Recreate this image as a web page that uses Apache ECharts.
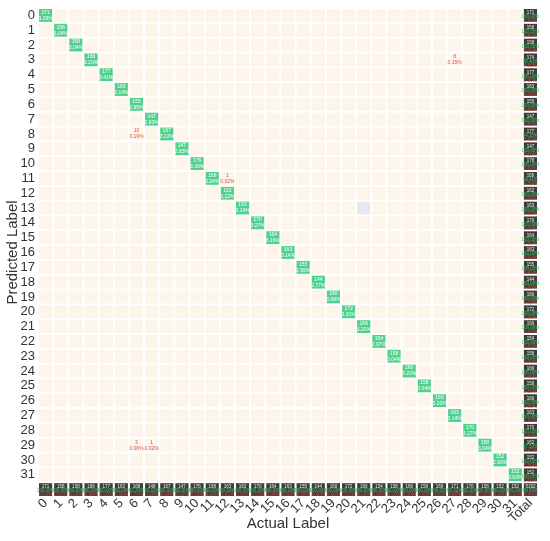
<!DOCTYPE html>
<html>
<head>
<meta charset="utf-8">
<style>
  html, body { margin: 0; padding: 0; background: #fff; }
  #chart { width: 550px; height: 541px; }
</style>
<script src="https://cdn.jsdelivr.net/npm/echarts@6/dist/echarts.min.js"></script>
</head>
<body>
<div id="chart"></div>
<script>
// class labels (0..31) plus Total
const classes = Array.from({ length: 32 }, (_, i) => String(i));
const labels = classes.concat(['Total']);

// correct predictions per class (diagonal)
const diagonal = [171, 158, 158, 166, 177, 163, 155, 147, 167, 147, 176, 168, 162, 163, 170, 164,
                  163, 155, 144, 160, 172, 166, 154, 158, 166, 158, 166, 163, 170, 158, 152, 152];

// off-diagonal mistakes: [predicted row, actual col, count]
const mistakes = [[8, 6, 10], [11, 12, 1], [3, 27, 8], [29, 6, 3], [29, 7, 1]];

// a single grey cell seen in the matrix: [row, col]
const greyCells = [[13, 21]];

const n = classes.length;
const matrix = [];
for (let r = 0; r < n; r++) {
  matrix.push(new Array(n).fill(0));
  matrix[r][r] = diagonal[r];
}
mistakes.forEach(([r, c, v]) => { matrix[r][c] = v; });

const rowSums = matrix.map(row => row.reduce((a, b) => a + b, 0));
const colSums = classes.map((_, c) => matrix.reduce((a, row) => a + row[c], 0));
const grand = rowSums.reduce((a, b) => a + b, 0);
const diagSum = diagonal.reduce((a, b) => a + b, 0);

function pct(v, d) { return (d ? (100 * v / d) : 0).toFixed(2) + '%'; }

// items: [col, row, value, kind, line2, line3]
const cells = [];
for (let r = 0; r < n; r++) {
  for (let c = 0; c < n; c++) {
    const v = matrix[r][c];
    let kind = 'empty';
    if (r === c) kind = 'diag';
    else if (v > 0) kind = 'miss';
    if (greyCells.some(g => g[0] === r && g[1] === c)) kind = 'grey';
    cells.push([c, r, v, kind, pct(v, grand), '']);
  }
  cells.push([n, r, rowSums[r], 'total', pct(diagonal[r], rowSums[r]), pct(rowSums[r] - diagonal[r], rowSums[r])]);
}
for (let c = 0; c < n; c++) {
  cells.push([c, n, colSums[c], 'total', pct(diagonal[c], colSums[c]), pct(colSums[c] - diagonal[c], colSums[c])]);
}
cells.push([n, n, grand, 'total', pct(diagSum, grand), pct(grand - diagSum, grand)]);

const chart = echarts.init(document.getElementById('chart'), null, { renderer: 'canvas' });

function renderCell(params, api) {
  const p = api.coord([api.value(0), api.value(1)]);
  const s = api.size([1, 1]);
  const kind = api.value(3);
  const v = api.value(2);
  const x0 = p[0] - s[0] / 2 + 1, y0 = p[1] - s[1] / 2 + 1;
  const w = s[0] - 2, h = s[1] - 2;
  let fill = '#fdf4ea';
  if (kind === 'diag') fill = '#50d08c';
  else if (kind === 'grey') fill = '#e6e7ef';
  else if (kind === 'total') fill = '#3a4039';
  const children = [{ type: 'rect', shape: { x: x0, y: y0, width: w, height: h }, style: { fill: fill } }];
  if (kind === 'diag' || kind === 'miss') {
    children.push({
      type: 'text',
      style: {
        text: v + '\n' + api.value(4),
        x: p[0], y: p[1], align: 'center', verticalAlign: 'middle',
        fontSize: 5, lineHeight: 6, fontFamily: 'Liberation Sans',
        fill: kind === 'diag' ? '#ffffff' : '#e0504a'
      }
    });
  } else if (kind === 'total') {
    const lines = [[String(v), '#e8e8e8'], [api.value(4), '#3fbf6a'], [api.value(5), '#c8463c']];
    lines.forEach((ln, i) => {
      children.push({
        type: 'text',
        style: {
          text: ln[0], x: p[0], y: y0 + 1.5 + i * 4, align: 'center', verticalAlign: 'top',
          fontSize: 4.5, fontFamily: 'Liberation Sans', fill: ln[1]
        }
      });
    });
  }
  return { type: 'group', children: children };
}

chart.setOption({
  animation: false,
  backgroundColor: '#ffffff',
  grid: { left: 38, right: 12, top: 8, bottom: 44, outerBoundsMode: 'none', containLabel: false },
  xAxis: {
    type: 'category',
    data: labels,
    name: 'Actual Label',
    nameLocation: 'middle',
    nameGap: 19,
    nameMoveOverlap: false,
    nameTextStyle: { fontSize: 15, color: '#333', fontFamily: 'Liberation Sans' },
    axisLine: { show: false },
    axisTick: { show: false },
    splitLine: { show: false },
    axisLabel: { rotate: 45, fontSize: 13, color: '#333', margin: 4, interval: 0, fontFamily: 'Liberation Sans' }
  },
  yAxis: {
    type: 'category',
    data: labels,
    inverse: true,
    name: 'Predicted Label',
    nameLocation: 'middle',
    nameGap: 18,
    nameRotate: 90,
    nameMoveOverlap: false,
    nameTextStyle: { fontSize: 15, color: '#333', fontFamily: 'Liberation Sans' },
    axisLine: { show: false },
    axisTick: { show: false },
    splitLine: { show: false },
    axisLabel: {
      fontSize: 13, color: '#333', margin: 3, interval: 0, fontFamily: 'Liberation Sans',
      formatter: v => (v === 'Total' ? '' : v)
    }
  },
  series: [{
    type: 'custom',
    renderItem: renderCell,
    encode: { x: 0, y: 1 },
    data: cells
  }]
});
</script>
</body>
</html>
